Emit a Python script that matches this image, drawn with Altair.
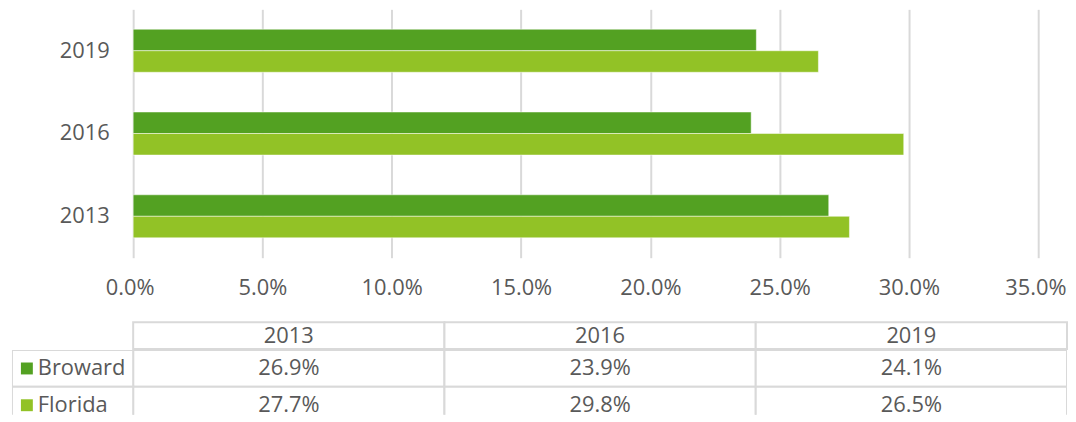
import altair as alt
import pandas as pd

# ---- data ----
years = ["2013", "2016", "2019"]
series = ["Broward", "Florida"]
broward = [0.269, 0.239, 0.241]
florida = [0.277, 0.298, 0.265]
x_ticks = [0.0, 0.05, 0.10, 0.15, 0.20, 0.25, 0.30, 0.35]
colors = ["#53A122", "#92C226"]

rows = []
for i, yr in enumerate(years):
    rows.append({"year": yr, "series": "Broward", "value": broward[i]})
    rows.append({"year": yr, "series": "Florida", "value": florida[i]})
df = pd.DataFrame(rows)
hdr = pd.DataFrame({"year": years})
leg = pd.DataFrame({"series": series})

FONT = "Open Sans, Liberation Sans, DejaVu Sans, sans-serif"
TEXT = "#595959"
LINE = "#d9d9d9"
FS = 22
W = 1062          # full width of the plot areas
LEFT = 122        # width of the legend column of the table
PLOT_R = 1033     # right end of the bar axis (35%)
ROWS_H = 74       # full height of the two table rows (the last one is cut by the frame)
BODY_H = 65       # visible part of the table body

color_scale = alt.Scale(domain=series, range=colors)

# ---- bar chart ----
bars = alt.Chart(df).mark_bar(stroke="white", strokeWidth=1, strokeOpacity=0.5).encode(
    x=alt.X("value:Q",
            scale=alt.Scale(domain=[0, 0.35], range=[LEFT, PLOT_R], nice=False),
            axis=alt.Axis(values=x_ticks, format=".1%", grid=True, gridColor=LINE,
                          gridWidth=2, domain=False, ticks=False, tickSize=0,
                          labelFlush=True, labelFlushOffset=28, labelPadding=20,
                          labelFontSize=FS, labelColor=TEXT, labelFont=FONT, title=None)),
    y=alt.Y("year:N", sort=years[::-1],
            scale=alt.Scale(paddingInner=0.48, paddingOuter=0.24),
            axis=alt.Axis(offset=-LEFT, domain=False, ticks=False, tickSize=0,
                          labelPadding=24, labelFontSize=FS, labelColor=TEXT,
                          labelFont=FONT, title=None)),
    yOffset=alt.YOffset("series:N", sort=series),
    color=alt.Color("series:N", scale=color_scale, legend=None),
).properties(width=W, height=250)

# ---- data table ----
xband = alt.Scale(type="band", domain=years, range=[LEFT, W], paddingInner=0, paddingOuter=0)

hdr_cells = alt.Chart(hdr).mark_rect(fill="white", stroke=LINE, strokeWidth=2).encode(
    x=alt.X("year:N", scale=xband, axis=None),
)
hdr_text = alt.Chart(hdr).mark_text(font=FONT, fontSize=FS, color=TEXT, baseline="middle").encode(
    x=alt.X("year:N", scale=xband, axis=None, bandPosition=0.5),
    text="year:N",
)
header = alt.layer(hdr_cells, hdr_text).properties(width=W, height=27)

yband = alt.Scale(type="band", domain=series, range=[0, ROWS_H], paddingInner=0, paddingOuter=0)

body_cells = alt.Chart(df).mark_rect(fill="white", stroke=LINE, strokeWidth=2, clip=True).encode(
    x=alt.X("year:N", scale=xband, axis=None),
    y=alt.Y("series:N", scale=yband, axis=None),
)
leg_cells = alt.Chart(leg).mark_rect(fill="white", stroke=LINE, strokeWidth=2, clip=True).encode(
    x=alt.value(0), x2=alt.value(LEFT),
    y=alt.Y("series:N", scale=yband, axis=None),
)
body_text = alt.Chart(df).mark_text(font=FONT, fontSize=FS, color=TEXT, baseline="middle").encode(
    x=alt.X("year:N", scale=xband, axis=None, bandPosition=0.5),
    y=alt.Y("series:N", scale=yband, axis=None, bandPosition=0.5),
    text=alt.Text("value:Q", format=".1%"),
)
leg_sym = alt.Chart(leg).mark_square(size=144, opacity=1).encode(
    x=alt.value(15),
    y=alt.Y("series:N", scale=yband, axis=None, bandPosition=0.5),
    color=alt.Color("series:N", scale=color_scale, legend=None),
)
leg_text = alt.Chart(leg).mark_text(font=FONT, fontSize=FS, color=TEXT, align="left",
                                   baseline="middle").encode(
    x=alt.value(26),
    y=alt.Y("series:N", scale=yband, axis=None, bandPosition=0.5),
    text="series:N",
)
body = alt.layer(body_cells, leg_cells, body_text, leg_sym, leg_text).properties(
    width=W, height=BODY_H)

table = alt.vconcat(header, body, spacing=0).resolve_scale(x="independent", y="independent")

chart = alt.vconcat(bars, table, spacing=23).resolve_scale(
    x="independent", y="independent"
).properties(
    padding={"left": 4, "top": 0, "right": 0, "bottom": 0}
).configure_view(stroke=None)

chart.save("out.html", embed_options={"renderer": "svg", "actions": False})
